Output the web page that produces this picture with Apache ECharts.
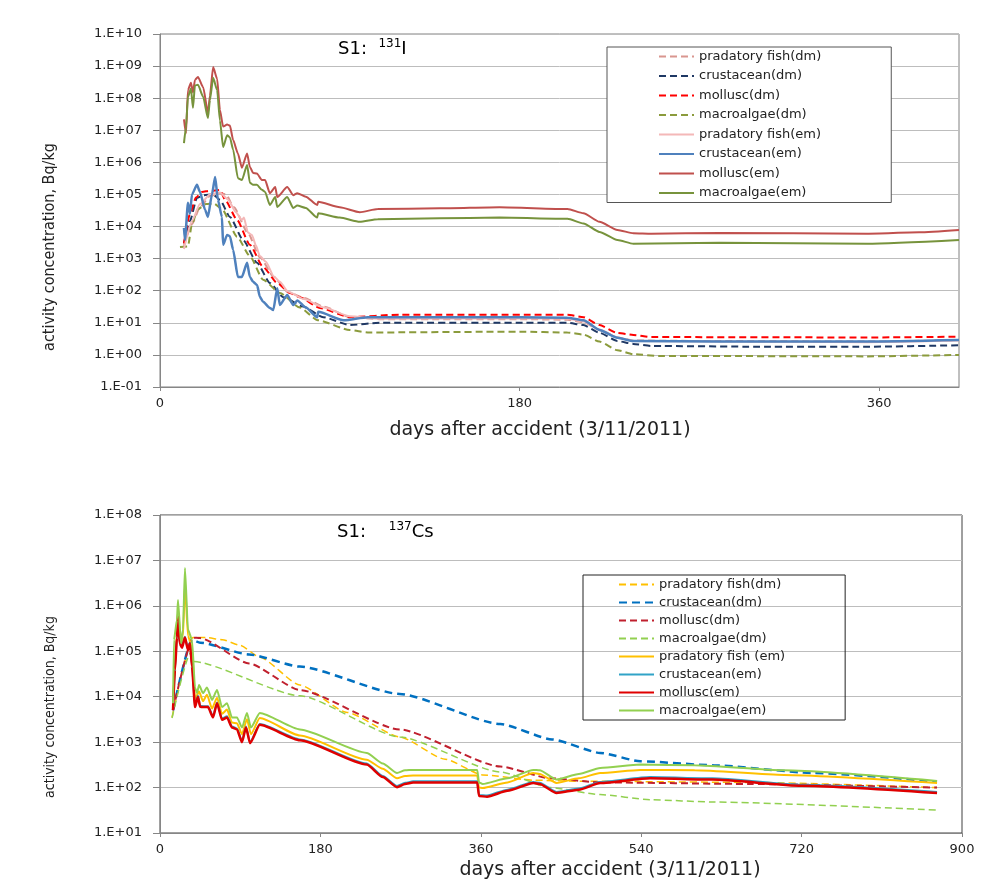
<!DOCTYPE html>
<html>
<head>
<meta charset="utf-8">
<script src="https://cdn.jsdelivr.net/npm/echarts@6/dist/echarts.min.js"></script>
<style>
html,body{margin:0;padding:0;background:#fff;}
#c1{position:absolute;left:0;top:0;width:1005px;height:440px;}
#c2{position:absolute;left:0;top:440px;width:1005px;height:443px;}
</style>
</head>
<body>
<div id="c1"></div>
<div id="c2"></div>
<script>
// ---------- DATA (days after accident, activity Bq/kg) ----------
// S1: 131I
const legendNamesI = ['pradatory fish(dm)','crustacean(dm)','mollusc(dm)','macroalgae(dm)','pradatory fish(em)','crustacean(em)','mollusc(em)','macroalgae(em)'];
const iFishDm = [[12,2.5e3],[16,1.2e4],[20,4e4],[25,9e4],[30,1.1e5],[33,1e5],[37,4e4],[44,6.3e3],[50,1.1e3],[57,2.7e2],[64,9e1],[72,6e1],[82,3.2e1],[95,1.5e1],[110,1.3e1],[180,1.3e1],[204,1.25e1],[212,1.05e1],[220,6],[229,3.5],[237,2.8],[280,2.7],[354,2.6],[400,2.9]];
const iCrusDm = [[12,3e3],[15,1.5e4],[18.5,7.8e4],[22,9.5e4],[26.6,1e5],[30,6.8e4],[35,2e4],[41.6,3.8e3],[48.6,7.4e2],[55,1.74e2],[61.7,6.3e1],[71.7,3.2e1],[81.7,1.5e1],[95,8.5],[110,1e1],[204,1e1],[212,8.5],[220,4.9],[229,2.7],[237,2.2],[246,1.9],[300,1.8],[354,1.8],[400,2.0]];
const iMollDm = [[12,3e3],[15,2.5e4],[18,8e4],[21,1.2e5],[25,1.3e5],[30,1.38e5],[32.6,6.8e4],[38.6,1.6e4],[45,2.7e3],[51.6,5.5e2],[58.7,1.74e2],[65,8.5e1],[70,6.3e1],[80,2.9e1],[95,1.5e1],[120,1.8e1],[204,1.8e1],[212,1.5e1],[220,8.5],[229,4.8],[237,4.2],[246,3.6],[354,3.5],[400,3.7]];
const iAlgDm = [[10,2.3e3],[14,2.4e3],[16,1.2e4],[19,3.5e4],[23,5e4],[27,5.2e4],[31,3.5e4],[38.6,4.8e3],[45,1.2e3],[51.6,2.2e2],[60,8.5e1],[70,3e1],[79,1.2e1],[95,6],[104,5],[180,5.3],[204,5.0],[212,4.3],[220,2.6],[229,1.4],[237,1.05],[250,0.93],[354,0.9],[400,1.0]];
const iFishEm = [[12,2e3],[16,1.5e4],[20,5e4],[25,1e5],[30,1.15e5],[34,7e4],[38,2.8e4],[41,1.6e4],[42,1.9e4],[44,6.5e3],[46,5.5e3],[48,2.6e3],[50,1.2e3],[53,8e2],[57,2.8e2],[60,1.9e2],[64,9.5e1],[72,5.5e1],[82,3e1],[95,1.6e1],[110,1.35e1],[180,1.4e1],[204,1.35e1],[212,1.1e1],[220,6.2],[229,3.5],[237,2.7],[280,2.6],[354,2.5],[400,2.8]];
const iCrusEm = [[12,9e3],[12.5,3.8e3],[14,5.5e4],[15,2.5e4],[16,1e5],[18.5,2e5],[20,1.2e5],[22.6,3.3e4],[24,2e4],[26,1e5],[27.6,3.5e5],[29,6.8e4],[31,2e4],[31.6,2.7e3],[33.6,5.5e3],[35,5e3],[36.6,1.9e3],[39,2.7e2],[41,2.7e2],[43.6,7.4e2],[45,2.7e2],[46.6,1.9e2],[48.6,1.5e2],[50,6.5e1],[51.6,4.5e1],[55,2.9e1],[56.7,2.5e1],[58.7,1.2e2],[60,3.6e1],[63.7,7.4e1],[66.7,3.6e1],[68.7,5e1],[73,3e1],[78.7,1.5e1],[79.2,2.2e1],[92,1.2e1],[104,1.5e1],[180,1.5e1],[204,1.45e1],[212,1.2e1],[220,6],[229,3.4],[237,2.7],[280,2.6],[354,2.6],[400,2.9]];
const iMollEm = [[12,2.2e7],[13,8e6],[14,1.8e8],[15.5,3e8],[16.5,1.5e8],[17.5,3.7e8],[19,4.6e8],[21.6,2.2e8],[24,3.5e7],[25,1.2e8],[26.6,9.3e8],[28.6,4e8],[30,4.3e7],[31.6,1.3e7],[33.6,1.5e7],[35,1.4e7],[36.6,5e6],[39,1.9e6],[41,6.8e5],[43.6,1.9e6],[45,7.2e5],[46.6,4.7e5],[48.5,4.5e5],[51,2.8e5],[52.6,2.8e5],[55,1.1e5],[57.7,1.7e5],[58.7,8.3e4],[63.7,1.7e5],[66.7,9.5e4],[68.7,1.1e5],[73,8.5e4],[78.7,4.7e4],[79.2,5.9e4],[90,4e4],[100,2.8e4],[109,3.5e4],[140,3.7e4],[170,4e4],[204,3.5e4],[212,2.6e4],[220,1.4e4],[229,7.8e3],[237,6.2e3],[246,6e3],[280,6.3e3],[354,6e3],[380,6.6e3],[400,7.8e3]];
const iAlgEm = [[12,4e6],[13,1.2e7],[14,1.1e8],[15.5,2e8],[16.5,5e7],[17.5,2.5e8],[19,2.6e8],[21.6,1.1e8],[24,2.4e7],[25,8.7e7],[26.6,4.3e8],[28.6,1.8e8],[30,2e7],[31.6,3e6],[33.6,7e6],[35,6e6],[36.6,2.5e6],[39,3.2e5],[41,2.8e5],[43.6,8.3e5],[45,2.3e5],[46.6,2e5],[48.5,2e5],[51,1.4e5],[52.6,1.2e5],[55,4.7e4],[57.7,8.3e4],[58.7,4.1e4],[63.7,8.3e4],[66.7,3.8e4],[68.7,4.5e4],[73,3.8e4],[78.7,1.9e4],[79.2,2.6e4],[90,1.9e4],[100,1.4e4],[109,1.7e4],[140,1.8e4],[170,1.9e4],[204,1.75e4],[212,1.25e4],[220,6.8e3],[229,3.8e3],[237,2.9e3],[280,3.1e3],[354,2.9e3],[400,3.8e3]];

// S1: 137Cs
const legendNamesCs = ['pradatory fish(dm)','crustacean(dm)','mollusc(dm)','macroalgae(dm)','pradatory fish (em)','crustacean(em)','mollusc(em)','macroalgae(em)'];
const csFishDm = [[13.5,3.5e3],[37,2.0e5],[52,2.0e5],[70,1.8e5],[90,1.35e5],[112,7.4e4],[157,1.8e4],[210,4.5e3],[269,1.3e3],[320,4.2e2],[362,1.9e2],[420,1.45e2],[471,1.38e2],[662,1.3e2],[872,1.0e2]];
const csCrusDm = [[14.6,5e3],[36,1.8e5],[45,1.55e5],[100,8.5e4],[157,4.6e4],[269,1.15e4],[382,2.5e3],[440,1.15e3],[494,5.8e2],[539,3.8e2],[621,3.1e2],[733,2.1e2],[872,1.35e2]];
const csMollDm = [[14.6,5e3],[37,2.0e5],[45,1.95e5],[100,5.4e4],[157,1.4e4],[269,1.9e3],[382,2.9e2],[438,1.6e2],[494,1.3e2],[662,1.2e2],[872,1.0e2]];
const csAlgDm = [[13.5,3.4e3],[34,9e4],[37,6e4],[157,1.05e4],[269,1.3e3],[382,2.2e2],[438,1.0e2],[494,7e1],[550,5.4e1],[621,4.8e1],[872,3.2e1]];
const csFishEm = [[14.6,6e3],[16.8,5e4],[19,2.5e5],[20.2,8e5],[23.6,1.3e5],[25.8,2.2e5],[28,3.0e6],[31.4,2.2e5],[35.9,1.2e5],[39.3,9e3],[43.8,1.3e4],[48.3,8e3],[52.7,1.1e4],[58.4,5.5e3],[64,9.5e3],[69.6,4.2e3],[75.2,5.2e3],[80.8,2.7e3],[86.4,2.6e3],[92,1.5e3],[97.6,3.2e3],[102,1.5e3],[112,3.4e3],[157,1.4e3],[232,4.1e2],[250,2.6e2],[266,1.6e2],[275,1.8e2],[284,1.85e2],[356,1.85e2],[358,1.0e2],[362,9.8e1],[390,1.3e2],[419,2.1e2],[426,2.0e2],[445,1.26e2],[470,1.6e2],[494,2.1e2],[539,2.45e2],[600,2.4e2],[700,1.9e2],[872,1.26e2]];
const csCrusEm = [[14.6,5.4e3],[16.8,4.1e4],[19,2.1e5],[20.2,6.2e5],[22,1.6e5],[24.7,1.3e5],[28,2.1e5],[31.4,1.1e5],[33.7,1.55e5],[35.9,4.8e4],[39.3,6.2e3],[42.6,1.05e4],[45,6.3e3],[48.3,6.2e3],[53.9,6.2e3],[59.5,3.7e3],[64,7.5e3],[69.6,3.3e3],[75.2,3.7e3],[80.8,2.2e3],[86.4,2.0e3],[92,1.05e3],[96.5,2.2e3],[101,1.0e3],[112,2.5e3],[157,1.15e3],[232,3.4e2],[250,1.8e2],[266,1.08e2],[275,1.27e2],[284,1.37e2],[356,1.37e2],[358,6.9e1],[367,6.7e1],[390,9e1],[419,1.33e2],[426,1.27e2],[445,8e1],[470,9.5e1],[494,1.33e2],[550,1.7e2],[620,1.6e2],[720,1.15e2],[872,8e1]];
const csMollEm = [[14.6,5.1e3],[16.8,3.9e4],[19,2e5],[20.2,6e5],[22,1.5e5],[24.7,1.2e5],[28,2e5],[31.4,1.07e5],[33.7,1.5e5],[35.9,4.6e4],[39.3,5.9e3],[42.6,1e4],[45,6e3],[48.3,5.9e3],[53.9,5.9e3],[59.5,3.5e3],[64,7.2e3],[69.6,3.1e3],[75.2,3.5e3],[80.8,2.1e3],[86.4,1.9e3],[92,1.0e3],[96.5,2.1e3],[101,9.5e2],[112,2.4e3],[157,1.1e3],[232,3.2e2],[250,1.7e2],[266,1.02e2],[275,1.2e2],[284,1.3e2],[356,1.3e2],[358,6.5e1],[367,6.3e1],[390,8.5e1],[419,1.26e2],[426,1.2e2],[445,7.6e1],[470,9e1],[494,1.26e2],[550,1.6e2],[620,1.5e2],[720,1.1e2],[872,7.6e1]];
const csAlgEm = [[14.6,7.2e3],[15.7,1.8e5],[19,4.9e5],[20.2,1.35e6],[23.6,1.5e5],[25.8,3e5],[28,6.8e6],[31.4,3e5],[35.9,1.8e5],[39.3,1.6e4],[41.5,1.2e4],[43.8,1.8e4],[48.3,1.2e4],[52.7,1.6e4],[58.4,8.5e3],[64,1.4e4],[69.6,5.9e3],[75.2,7.2e3],[80.8,3.5e3],[86.4,3.5e3],[92,2.1e3],[97.6,4.4e3],[102,2.1e3],[112,4.4e3],[157,1.9e3],[232,5.8e2],[250,3.4e2],[266,2.1e2],[275,2.4e2],[284,2.45e2],[356,2.45e2],[358,1.3e2],[362,1.2e2],[390,1.6e2],[419,2.45e2],[426,2.4e2],[445,1.5e2],[470,2.0e2],[494,2.7e2],[539,3.2e2],[600,3.1e2],[700,2.4e2],[872,1.4e2]];

const xAxisTitle = 'days after accident (3/11/2011)';
const yAxisTitle = 'activity concentration, Bq/kg';

// ---------- helpers ----------
const FONT = 'DejaVu Sans';
function expLabel(v){
  const e = Math.round(Math.log10(v));
  return '1.E' + (e < 0 ? '-' : '+') + String(Math.abs(e)).padStart(2,'0');
}
function line(name, data, color, width, dash, z){
  return {
    name, type:'line', data, symbol:'none', showSymbol:false,
    smooth:0.2, smoothMonotone:'x', z: z || 2,
    lineStyle:{color, width, type: dash ? dash : 'solid'},
    itemStyle:{color}, emphasis:{disabled:true}, animation:false
  };
}
function axes(o){
  return {
    xAxis:{type:'value', min:0, max:o.xmax, interval:180,
      axisLine:{show:true, lineStyle:{color:'#868686'}},
      axisTick:{show:true, length:4, lineStyle:{color:'#868686'}},
      axisLabel:{show:true, color:'#222', fontFamily:FONT, fontSize:13, margin:10, showMaxLabel:o.showMax},
      splitLine:{show:false}},
    yAxis:{type:'log', logBase:10, min:o.ymin, max:o.ymax, interval:1,
      axisLine:{show:true, lineStyle:{color:'#868686'}},
      axisTick:{show:true, length:7, lineStyle:{color:'#868686'}},
      axisLabel:{color:'#222', fontFamily:FONT, fontSize:13, margin:18, formatter:expLabel},
      splitLine:{show:true, lineStyle:{color:'#bdbdbd', width:1}}}
  };
}
const legendCommon = {orient:'vertical', itemWidth:35, selectedMode:false,
  itemStyle:{opacity:0, borderWidth:0},
  textStyle:{fontFamily:FONT, fontSize:13, color:'#222'}};

// ---------- Chart 1 : 131I ----------
const c1 = echarts.init(document.getElementById('c1'));
const a1 = axes({xmax:400, showMax:false, ymin:0.1, ymax:1e10});
c1.setOption({
  animation:false,
  grid:{left:160, top:34, width:799, height:353, show:true, borderColor:'#808080', borderWidth:1, backgroundColor:'transparent'},
  xAxis:a1.xAxis, yAxis:a1.yAxis,
  legend:Object.assign({}, legendCommon, {data:legendNamesI, left:607, top:47, padding:[3,70,3,51],
    itemHeight:14, itemGap:6.5, borderColor:'#555', borderWidth:1, backgroundColor:'#fff'}),
  graphic:[
    {type:'text', left:338, top:38, style:{text:'{a|S1:  }{s|131}{a|I}', rich:{a:{fontFamily:FONT, fontSize:18, color:'#111'}, s:{fontFamily:FONT, fontSize:12, color:'#111', padding:[0,0,10,0]}}}},
    {type:'text', x:540, y:430, style:{text:xAxisTitle, font:'19px "DejaVu Sans"', fill:'#222', align:'center', verticalAlign:'middle'}},
    {type:'text', x:50, y:247, rotation:Math.PI/2, style:{text:yAxisTitle, font:'16px "DejaVu Sans Condensed"', fill:'#222', align:'center', verticalAlign:'middle'}}
  ],
  series:[
    line(legendNamesI[0], iFishDm, '#d9968f', 2, [7,4]),
    line(legendNamesI[1], iCrusDm, '#1f3864', 2, [7,4]),
    line(legendNamesI[2], iMollDm, '#ff0000', 2, [7,4]),
    line(legendNamesI[3], iAlgDm, '#8b9b3c', 2, [7,4]),
    line(legendNamesI[4], iFishEm, '#f4b8b8', 2),
    line(legendNamesI[5], iCrusEm, '#4f81bd', 2.5),
    line(legendNamesI[6], iMollEm, '#c0504d', 2),
    line(legendNamesI[7], iAlgEm, '#77933c', 2)
  ]
});

// ---------- Chart 2 : 137Cs ----------
const c2 = echarts.init(document.getElementById('c2'));
const a2 = axes({xmax:900, showMax:true, ymin:10, ymax:1e8});
c2.setOption({
  animation:false,
  grid:{left:160, top:75, width:802, height:318, show:true, borderColor:'#404040', borderWidth:1, backgroundColor:'transparent'},
  xAxis:a2.xAxis, yAxis:a2.yAxis,
  legend:Object.assign({}, legendCommon, {data:legendNamesCs, left:583, top:135, padding:[3,60,3,35],
    itemHeight:13, itemGap:5, borderColor:'#222', borderWidth:1, backgroundColor:'transparent'}),
  graphic:[
    {type:'text', left:337, top:81, style:{text:'{a|S1:    }{s|137}{a|Cs}', rich:{a:{fontFamily:FONT, fontSize:18, color:'#111'}, s:{fontFamily:FONT, fontSize:12, color:'#111', padding:[0,0,10,0]}}}},
    {type:'text', x:610, y:430, style:{text:xAxisTitle, font:'19px "DejaVu Sans"', fill:'#222', align:'center', verticalAlign:'middle'}},
    {type:'text', x:50, y:267, rotation:Math.PI/2, style:{text:yAxisTitle, font:'14px "DejaVu Sans Condensed"', fill:'#222', align:'center', verticalAlign:'middle'}}
  ],
  series:[
    line(legendNamesCs[0], csFishDm, '#ffc000', 1.5, [7,4]),
    line(legendNamesCs[1], csCrusDm, '#0070c0', 2.5, [8,5]),
    line(legendNamesCs[2], csMollDm, '#c0202e', 2, [7,4]),
    line(legendNamesCs[3], csAlgDm, '#92d050', 1.5, [7,4]),
    line(legendNamesCs[4], csFishEm, '#ffc000', 2),
    line(legendNamesCs[5], csCrusEm, '#31a3c7', 2),
    line(legendNamesCs[6], csMollEm, '#e00000', 2.5),
    line(legendNamesCs[7], csAlgEm, '#92d050', 2)
  ]
});
</script>
</body>
</html>
